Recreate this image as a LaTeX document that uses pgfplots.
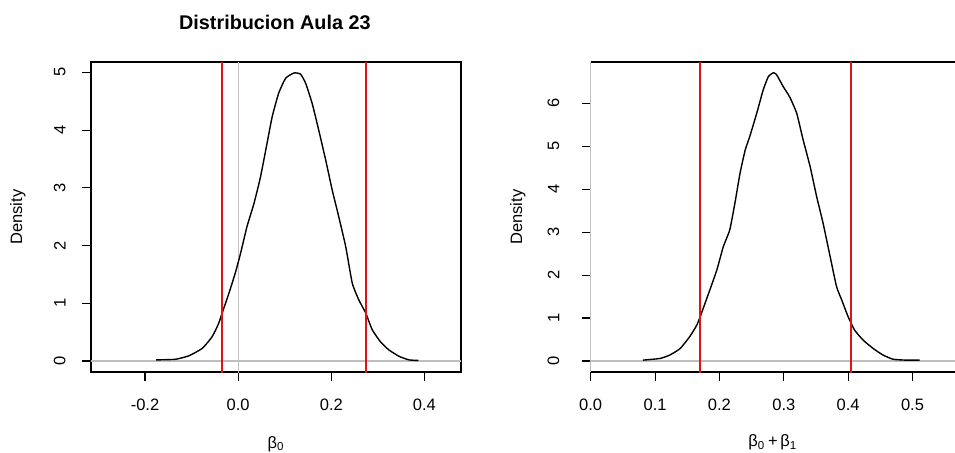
\documentclass[border=0pt]{standalone}
\usepackage{fontspec}
\setmainfont{Liberation Sans}
\usepackage{pgfplots}
\pgfplotsset{compat=1.18}

\definecolor{rline}{RGB}{220,20,20}
\definecolor{gline}{RGB}{190,190,190}

\pgfplotsset{
  rplot/.style={
    scale only axis,
    height=155pt,
    font=\fontsize{8.25}{9.5}\selectfont,
    /pgf/number format/assume math mode=true,
    axis line style={line width=0.55pt},
    tick style={black, line width=0.55pt},
    major tick length=4.5pt,
    tick align=outside,
    xtick pos=left, ytick pos=left,
    xticklabel style={inner sep=0pt, anchor=north, yshift=-9pt},
    yticklabel style={rotate=90, inner sep=0pt, anchor=south},
    ylabel={Density},
    clip=true,
  },
  redline/.style={draw=rline, line width=0.9pt},
}

\begin{document}
\begin{tikzpicture}
% left panel
\begin{axis}[rplot,
  at={(45.5pt,40pt)}, anchor=south west,
  width=185pt,
  xmin=-0.316, xmax=0.4785, ymin=-0.19, ymax=5.18,
  xtick={-0.2,0,0.2,0.4},
  xticklabels={-0.2,0.0,0.2,0.4},
  ytick={0,1,2,3,4,5},
  yticklabel shift=8pt,
  xlabel={β\textsubscript{0}},
  xlabel style={at={(axis description cs:0.5,-0.232)}, anchor=center},
  ylabel style={at={(axis description cs:-0.198,0.5)}, anchor=center},
  title={Distribucion Aula 23},
  title style={at={(axis description cs:0.497,1.09)}, anchor=center,
    font=\fontsize{9.9}{11}\selectfont\bfseries},
]
\addplot[gline, line width=0.55pt] coordinates {(-0.4,0) (0.6,0)};
\addplot[gline, line width=0.55pt] coordinates {(0,-1) (0,6)};
\addplot[black, line width=0.7pt, smooth, tension=0.3] coordinates {
(-0.176,0.02) (-0.135,0.03) (-0.106,0.09) (-0.077,0.22) (-0.056,0.42)
(-0.042,0.65) (-0.031,0.91) (-0.020,1.17) (-0.006,1.53) (0.005,1.86)
(0.019,2.33) (0.034,2.73) (0.048,3.19) (0.062,3.77) (0.073,4.23)
(0.087,4.64) (0.102,4.90) (0.120,4.99) (0.134,4.97) (0.145,4.81)
(0.159,4.46) (0.173,4.00) (0.188,3.48) (0.202,2.96) (0.216,2.50)
(0.231,1.98) (0.245,1.35) (0.259,1.06) (0.274,0.83) (0.288,0.54)
(0.306,0.33) (0.324,0.19) (0.346,0.08) (0.367,0.02) (0.387,0.01)};
\addplot[redline] coordinates {(-0.034,-1) (-0.034,6)};
\addplot[redline] coordinates {(0.274,-1) (0.274,6)};
\end{axis}

% right panel (cut at the right edge)
\begin{axis}[rplot,
  at={(295.35pt,40pt)}, anchor=south west,
  width=182.15pt,
  axis x line=box, axis y line=left,
  tick align=outside,
  x axis line style={-}, y axis line style={-, draw=gline},
  xmin=0, xmax=0.566, ymin=-0.256, ymax=6.96,
  xtick={0,0.1,0.2,0.3,0.4,0.5},
  xticklabels={0.0,0.1,0.2,0.3,0.4,0.5},
  ytick={0,1,2,3,4,5,6},
  yticklabel shift=11pt,
  ylabel style={at={(axis description cs:-0.2,0.5)}, anchor=center},
  xlabel={β\textsubscript{0}\,+\,β\textsubscript{1}},
  xlabel style={at={(axis description cs:0.5,-0.227)}, anchor=center},
]
\addplot[gline, line width=0.55pt] coordinates {(-0.1,0) (0.7,0)};
\addplot[black, line width=0.7pt, smooth, tension=0.3] coordinates {
(0.081,0.02) (0.108,0.06) (0.123,0.14) (0.139,0.29) (0.154,0.57)
(0.165,0.84) (0.172,1.11) (0.185,1.65) (0.196,2.12) (0.206,2.66)
(0.216,3.05) (0.224,3.67) (0.232,4.37) (0.240,4.91) (0.247,5.22)
(0.258,5.77) (0.268,6.31) (0.276,6.62) (0.284,6.71) (0.289,6.66)
(0.299,6.39) (0.309,6.15) (0.320,5.77) (0.330,5.15) (0.341,4.52)
(0.351,3.83) (0.361,3.21) (0.372,2.43) (0.382,1.73) (0.390,1.42)
(0.400,1.03) (0.410,0.72) (0.423,0.49) (0.439,0.29) (0.454,0.14)
(0.470,0.04) (0.491,0.02) (0.511,0.02)};
\addplot[redline] coordinates {(0.170,-1) (0.170,8)};
\addplot[redline] coordinates {(0.405,-1) (0.405,8)};
\end{axis}

\pgfresetboundingbox
\path (0,0) rectangle (477.5pt,226pt);
\end{tikzpicture}
\end{document}
